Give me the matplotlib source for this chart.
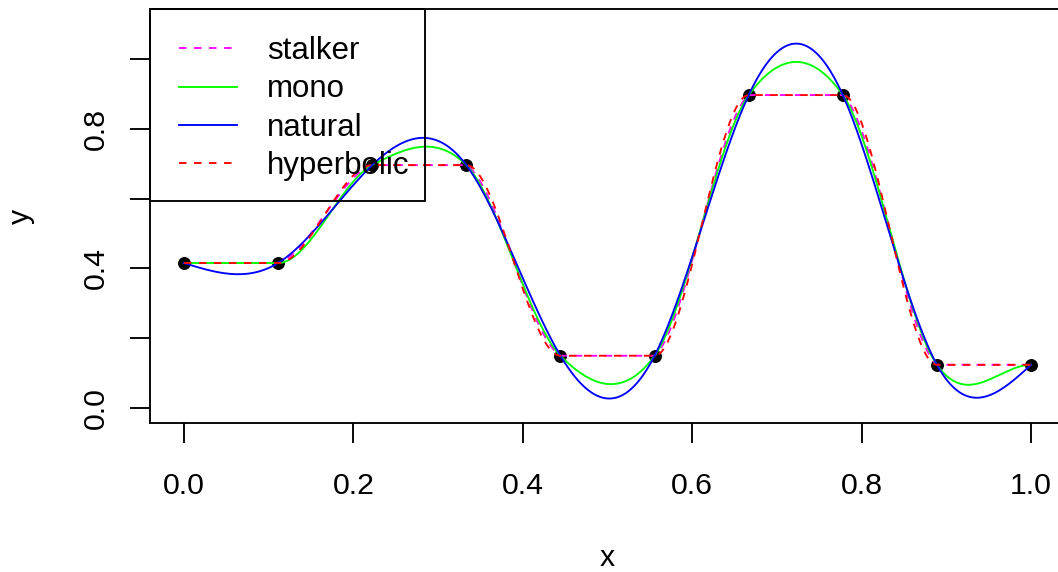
import numpy as np
import matplotlib
matplotlib.use("Agg")
import matplotlib.pyplot as plt
from matplotlib.patches import Rectangle

# data points
x_pts = np.arange(10) / 9
y_pts = np.array([0.415, 0.415, 0.696, 0.696, 0.149, 0.149, 0.897, 0.897, 0.123, 0.123])

labels = ["stalker", "mono", "natural", "hyperbolic"]
colors = ["#FF00FF", "#00FF00", "#0000FF", "#FF0000"]
styles = ["dashed", "solid", "solid", "dashed"]


def hermite(xp, yp, d, xs):
    i = np.clip(np.searchsorted(xp, xs, side="right") - 1, 0, len(xp) - 2)
    h = xp[i + 1] - xp[i]
    t = (xs - xp[i]) / h
    h00 = 2 * t**3 - 3 * t**2 + 1
    h10 = t**3 - 2 * t**2 + t
    h01 = -2 * t**3 + 3 * t**2
    h11 = t**3 - t**2
    return h00 * yp[i] + h10 * h * d[i] + h01 * yp[i + 1] + h11 * h * d[i + 1]


def natural_spline(xp, yp, xs):
    n = len(xp)
    h = np.diff(xp)
    A = np.zeros((n, n))
    b = np.zeros(n)
    A[0, 0] = A[-1, -1] = 1
    for k in range(1, n - 1):
        A[k, k - 1] = h[k - 1]
        A[k, k] = 2 * (h[k - 1] + h[k])
        A[k, k + 1] = h[k]
        b[k] = 6 * ((yp[k + 1] - yp[k]) / h[k] - (yp[k] - yp[k - 1]) / h[k - 1])
    m = np.linalg.solve(A, b)
    i = np.clip(np.searchsorted(xp, xs, side="right") - 1, 0, n - 2)
    t0 = xs - xp[i]
    t1 = xp[i + 1] - xs
    hi = h[i]
    return (m[i] * t1**3 / (6 * hi) + m[i + 1] * t0**3 / (6 * hi)
            + (yp[i] / hi - m[i] * hi / 6) * t1
            + (yp[i + 1] / hi - m[i + 1] * hi / 6) * t0)


xs = np.linspace(0, 1, 600)

# mono: central differences, flat at the ends
d_mono = np.zeros(10)
d_mono[1:-1] = (y_pts[2:] - y_pts[:-2]) / (x_pts[2:] - x_pts[:-2])
d_mono[1] = 0
y_mono = hermite(x_pts, y_pts, d_mono, xs)

y_nat = natural_spline(x_pts, y_pts, xs)

# hyperbolic: zero slopes at the knots
y_hyp = hermite(x_pts, y_pts, np.zeros(10), xs)

# stalker: between hyperbolic and straight segments
y_lin = np.interp(xs, x_pts, y_pts)
y_stk = 0.7 * y_hyp + 0.3 * y_lin

curves = [y_stk, y_mono, y_nat, y_hyp]

fs = 21.8
fs_leg = 22.5
plt.rcParams["font.family"] = ["Liberation Sans", "DejaVu Sans"]
plt.rcParams["font.size"] = fs

W, H = 1058, 572
fig = plt.figure(figsize=(W / 100, H / 100), dpi=100)
ax = fig.add_axes([150 / W, 149 / H, 915 / W, 414 / H])

ax.plot(x_pts, y_pts, "o", color="black", ms=8.3, zorder=2)
for yc, lab, c, ls in zip(curves, labels, colors, styles):
    ls = (0, (4, 4)) if ls == "dashed" else "-"
    ax.plot(xs, yc, color=c, lw=1.35, linestyle=ls, label=lab, zorder=3)

ax.set_xlim(-0.04, 1.04)
ax.set_ylim(-0.044, 1.144)
ax.set_xticks([0, 0.2, 0.4, 0.6, 0.8, 1.0])
ax.set_xticklabels(["0.0", "0.2", "0.4", "0.6", "0.8", "1.0"])
ax.set_yticks([0, 0.2, 0.4, 0.6, 0.8, 1.0])
ax.set_yticklabels(["0.0", "", "0.4", "", "0.8", ""], rotation=90, va="center")
ax.tick_params(axis="x", length=14.4, width=1.35, pad=20.9)
ax.tick_params(axis="y", length=14.4, width=1.35, pad=14.4)
for s in ax.spines.values():
    s.set_linewidth(1.35)

fig.text(607.5 / W, 0.5 / H, "x", ha="center", va="bottom")
fig.text(29 / W, (H - 216) / H, "y", rotation=90, rotation_mode="anchor",
         ha="center", va="baseline")

# legend: entries placed inside a frame drawn like R's legend box
leg = ax.legend(loc="upper left", bbox_to_anchor=(179 / W, (H - 36) / H),
                bbox_transform=fig.transFigure, borderaxespad=0, borderpad=0,
                frameon=False, handlelength=1.86, handletextpad=0.96,
                labelspacing=0.27, fontsize=fs_leg)
fig.patches.append(Rectangle((150 / W, (H - 201) / H), 275 / W, 192 / H,
                             transform=fig.transFigure, fill=False,
                             edgecolor="black", lw=1.35))

fig.savefig("out.png", dpi=100)
